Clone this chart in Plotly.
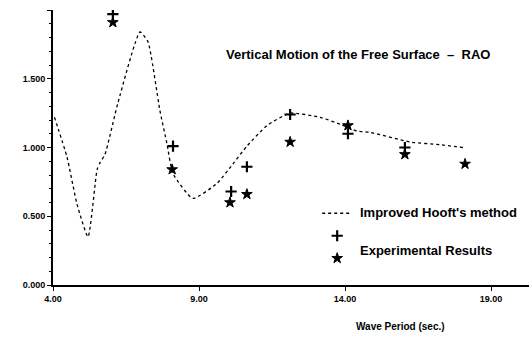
import plotly.graph_objects as go

# Theoretical RAO curve (improved Hooft's method)
theory_period = [4.05, 4.48, 4.82, 5.20, 5.51, 5.61, 5.78, 6.23, 6.98, 7.25, 7.66, 7.90,
                 8.11, 8.79, 9.62, 10.16, 10.64, 11.33, 12.12, 13.14, 13.83, 14.41,
                 14.86, 16.23, 17.25, 18.04]
theory_rao = [1.22, 0.93, 0.59, 0.35, 0.84, 0.89, 0.95, 1.33, 1.84, 1.77, 1.27, 1.03,
              0.81, 0.63, 0.74, 0.88, 1.01, 1.16, 1.25, 1.22, 1.17, 1.12,
              1.11, 1.04, 1.02, 1.00]

# Experimental results, two measurement sets
exp1_period = [6.05, 8.11, 10.10, 10.64, 12.12, 14.10, 16.05]
exp1_rao = [1.97, 1.01, 0.68, 0.86, 1.24, 1.10, 1.00]
exp2_period = [6.05, 8.08, 10.06, 10.64, 12.12, 14.10, 16.05, 18.11]
exp2_rao = [1.91, 0.84, 0.60, 0.66, 1.04, 1.16, 0.95, 0.88]

x_ticks = [4, 9, 14, 19]
x_tick_labels = ["4.00", "9.00", "14.00", "19.00"]
y_ticks = [0, 0.5, 1.0, 1.5, 2.0]
y_tick_labels = ["0.000", "0.500", "1.000", "1.500", ""]

FONT = "Liberation Sans"

fig = go.Figure()
fig.add_trace(go.Scatter(
    x=theory_period, y=theory_rao, mode="lines", name=" ",
    line=dict(color="black", width=1.3, dash="dot", shape="spline", smoothing=0.5),
))
fig.add_trace(go.Scatter(
    x=exp1_period, y=exp1_rao, mode="markers", name=" ",
    marker=dict(symbol="cross-thin", size=8, line=dict(color="black", width=2.2)),
))
fig.add_trace(go.Scatter(
    x=exp2_period, y=exp2_rao, mode="markers", name=" ",
    marker=dict(symbol="star", size=8, color="black", line=dict(color="black", width=1)),
))

fig.update_layout(
    width=529, height=341,
    margin=dict(l=53, r=0, t=10, b=56),
    paper_bgcolor="white", plot_bgcolor="white",
    font=dict(family=FONT, color="black", size=9, weight="bold"),
    showlegend=True,
    legend=dict(x=0.555, y=0.32, xanchor="left", yanchor="top",
                bgcolor="rgba(0,0,0,0)", font=dict(size=15),
                tracegroupgap=0, itemwidth=30),
    xaxis=dict(range=[4, 20.3], tickvals=x_ticks, ticktext=x_tick_labels,
               showgrid=False, zeroline=False, showline=True, linecolor="black",
               linewidth=2, ticks="outside", ticklen=4, tickcolor="black",
               tickfont=dict(size=9, weight="bold")),
    yaxis=dict(range=[0, 2.0], tickvals=y_ticks, ticktext=y_tick_labels,
               showgrid=False, zeroline=False, showline=True, linecolor="black",
               linewidth=2, ticks="outside", ticklen=4, tickcolor="black",
               tickfont=dict(size=9, weight="bold"),
               minor=dict(dtick=0.1, ticks="outside", ticklen=2, tickcolor="black")),
)

fig.add_annotation(text="Vertical Motion of the Free Surface  \u2013  RAO",
                   xref="paper", yref="paper", x=0.64, y=0.838, yanchor="middle",
                   showarrow=False, font=dict(size=13, weight="bold"))
fig.add_annotation(text="Improved Hooft's method",
                   xref="paper", yref="paper", x=0.64, y=0.263, xanchor="left",
                   yanchor="middle", showarrow=False, font=dict(size=13, weight="bold"))
fig.add_annotation(text="Experimental Results",
                   xref="paper", yref="paper", x=0.64, y=0.127, xanchor="left",
                   yanchor="middle", showarrow=False, font=dict(size=13, weight="bold"))
fig.add_annotation(text="Wave Period (sec.)",
                   xref="paper", yref="paper", x=0.827, y=-0.15, yanchor="middle",
                   showarrow=False, font=dict(size=10, weight="bold"))

fig.write_html("out.html")
